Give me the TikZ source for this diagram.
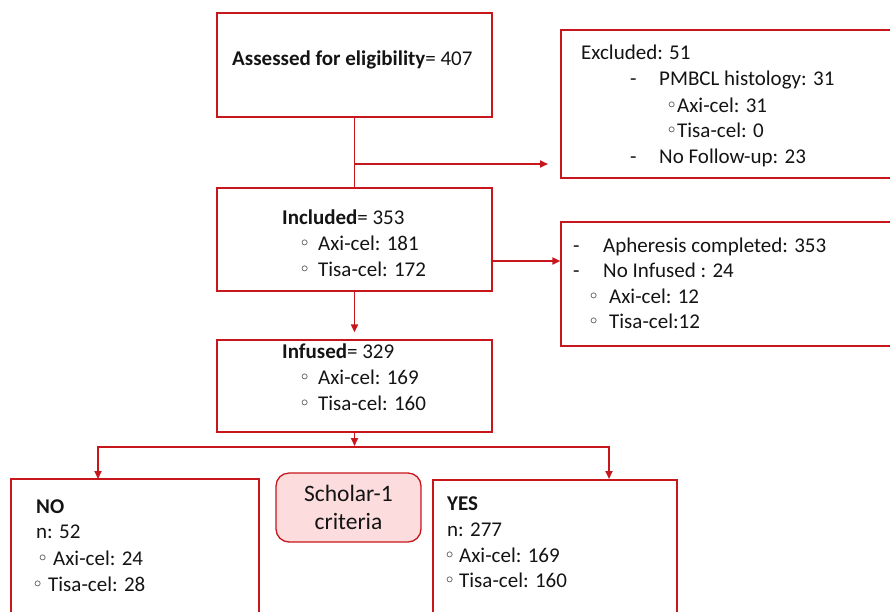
\documentclass[tikz,border=0pt]{standalone}
\usepackage{fontspec}
\setmainfont{Carlito}
\usetikzlibrary{arrows.meta}
\definecolor{flowred}{HTML}{C8161D}
\definecolor{flowpink}{HTML}{FCDCDC}
\newcommand{\bul}{\raisebox{3.5pt}{\fontsize{15}{15}\selectfont$\circ$}}

\begin{document}
\begin{tikzpicture}[x=1pt,y=-1pt,
    box/.style={draw=flowred, line width=1.3pt, inner sep=0pt},
    txt/.style={anchor=base west, inner sep=0pt, font=\fontsize{21}{25}\selectfont, text=black!92},
    link/.style={draw=flowred, line width=1.9pt, -{Triangle[length=8pt,width=7pt]}}]
    \useasboundingbox (0,0) rectangle (890,611);
    \clip (0,0) rectangle (890,611);

    % boxes
    \node[box, minimum width=275pt, minimum height=104pt] (assessed) at (354.5,65) {};
    \node[box, minimum width=349pt, minimum height=148pt] (excluded) at (735.5,104) {};
    \node[box, minimum width=275pt, minimum height=103pt] (included) at (354.5,239.5) {};
    \node[box, minimum width=349pt, minimum height=124pt] (apheresis) at (735.5,284) {};
    \node[box, minimum width=275pt, minimum height=92pt] (infused) at (354.5,386) {};
    \node[box, minimum width=248pt, minimum height=161pt] (no) at (135,559.5) {};
    \node[box, minimum width=244pt, minimum height=160pt] (yes) at (555,560) {};
    \node[box, fill=flowpink, rounded corners=13pt, minimum width=145pt, minimum height=69pt,
        align=center, font=\fontsize{23.5}{28}\selectfont, text=black!92] (scholar) at (348.5,507.5) {Scholar-1\\criteria};

    % texts
    \node[txt] (assessedtxt) at (232,65) {\textbf{Assessed for eligibility}= 407};

    \node[txt] (exctitle) at (581,59) {Excluded: 51};
    \foreach \y/\t in {85/PMBCL histology: 31,163/No Follow-up: 23}{
        \node[txt] at (630,\y) {-};
        \node[txt] at (659,\y) {\t};
    }
    \foreach \y/\t in {112/Axi-cel: 31,137/Tisa-cel: 0}{
        \node[txt] at (668,\y) {\bul};
        \node[txt] at (677,\y) {\t};
    }

    \node[txt] (inctitle) at (282,224) {\textbf{Included}= 353};
    \node[txt] (inftitle) at (282,358) {\textbf{Infused}= 329};
    \foreach \y/\t in {250/Axi-cel: 181,276/Tisa-cel: 172,384/Axi-cel: 169,410/Tisa-cel: 160}{
        \node[txt] at (301,\y) {\bul};
        \node[txt] at (318,\y) {\t};
    }

    \foreach \y/\t in {252/Apheresis completed: 353,277/No Infused : 24}{
        \node[txt] at (573,\y) {-};
        \node[txt] at (603,\y) {\t};
    }
    \foreach \y/\t in {303/Axi-cel: 12,328/Tisa-cel:12}{
        \node[txt] at (590,\y) {\bul};
        \node[txt] at (609,\y) {\t};
    }

    \node[txt] (notitle) at (36,513) {\textbf{NO}};
    \node[txt] at (36,538) {n: 52};
    \node[txt] at (39,565) {\bul};
    \node[txt] at (53,565) {Axi-cel: 24};
    \node[txt] at (34,591) {\bul};
    \node[txt] at (48,591) {Tisa-cel: 28};

    \node[txt] (yestitle) at (447,510) {\textbf{YES}};
    \node[txt] at (447,536) {n: 277};
    \foreach \y/\t in {562/Axi-cel: 169,587/Tisa-cel: 160}{
        \node[txt] at (446,\y) {\bul};
        \node[txt] at (459,\y) {\t};
    }

    % connectors
    \coordinate (split) at (354.5,164);
    \coordinate (exin) at (548,164);
    \coordinate (fork) at (354.5,447);
    \coordinate (noin) at (98,479);
    \coordinate (yesin) at (609,479);
    \draw[flowred, line width=1.9pt] (assessed.south) -- (included.north);
    \draw[link] (split) -- (exin);
    \draw[link] ([yshift=-21.5pt]included.east) -- ([yshift=-21.5pt]included.east -| apheresis.west);
    \draw[link, shorten >=7pt] (included.south) -- (infused.north);
    \draw[link, shorten >=1pt] (infused.south) -- (fork);
    \draw[link] (fork) -| (noin);
    \draw[link] (fork) -| (yesin);
\end{tikzpicture}
\end{document}
